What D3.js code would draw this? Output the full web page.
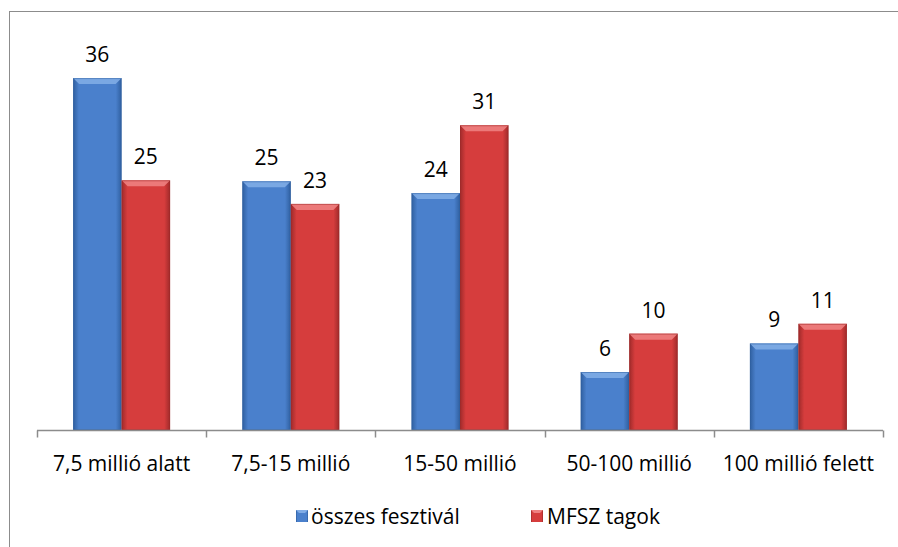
<!DOCTYPE html>
<html>
<head>
<meta charset="utf-8">
<script src="https://cdn.jsdelivr.net/npm/d3@7"></script>
<style>
  html, body { margin: 0; padding: 0; background: #fff; }
  svg { display: block; }
  text { font-family: "Open Sans", Lato, sans-serif; fill: #000; }
</style>
</head>
<body>
<svg id="chart" width="898" height="547"></svg>
<script>
const categories = ["7,5 millió alatt", "7,5-15 millió", "15-50 millió", "50-100 millió", "100 millió felett"];
const seriesNames = ["összes fesztivál", "MFSZ tagok"];
const osszesFesztival = [35.8, 25.3, 24.1, 5.9, 8.8];
const mfszTagok = [25.4, 23.0, 31.0, 9.8, 10.8];
const seriesValues = [osszesFesztival, mfszTagok];

const svg = d3.select("#chart");
const defs = svg.append("defs");

const palettes = [
  { base: "#4a80cc", light: "#80ace6", dark: "#2f5f9f", key: "b" },
  { base: "#d63d3d", light: "#ee8080", dark: "#9e2a2a", key: "r" }
];
palettes.forEach(p => {
  const g = defs.append("linearGradient").attr("id", "h" + p.key)
    .attr("x1", "0").attr("x2", "1").attr("y1", "0").attr("y2", "0");
  g.append("stop").attr("offset", "0").attr("stop-color", p.dark);
  g.append("stop").attr("offset", "0.12").attr("stop-color", p.base);
  g.append("stop").attr("offset", "0.88").attr("stop-color", p.base);
  g.append("stop").attr("offset", "1").attr("stop-color", p.dark);
});

// outer border
svg.append("rect").attr("x", 9.5).attr("y", 11.5).attr("width", 900).attr("height", 600)
  .attr("fill", "none").attr("stroke", "#8c8c8c").attr("stroke-width", 1);

const plotLeft = 37, plotRight = 883, plotBase = 430, plotTop = 36.8;
const x0 = d3.scaleBand().domain(categories).range([plotLeft, plotRight]).padding(0);
const x1 = d3.scaleBand().domain([0, 1]).range([0, 97]);
const y = d3.scaleLinear().domain([0, 40]).range([plotBase, plotTop]);
const fmt = d3.format(".0f");

const groups = svg.append("g").selectAll("g").data(categories).join("g")
  .attr("transform", d => `translate(${x0(d) + (x0.bandwidth() - 97) / 2},0)`);

groups.each(function(cat, ci) {
  const g = d3.select(this);
  [0, 1].forEach(si => {
    const v = seriesValues[si][ci];
    const p = palettes[si];
    const bx = x1(si), bw = x1.bandwidth();
    const by = y(v), bh = plotBase - by;
    g.append("rect").attr("x", bx).attr("y", by).attr("width", bw).attr("height", bh)
      .attr("fill", `url(#h${p.key})`);
    const bv = 6;
    g.append("path")
      .attr("d", `M${bx},${by} L${bx + bw},${by} L${bx + bw - bv},${by + bv} L${bx + bv},${by + bv} Z`)
      .attr("fill", p.light).attr("opacity", 0.9);
    g.append("rect").attr("x", bx + 0.5).attr("y", by + 0.5).attr("width", bw - 1).attr("height", bh - 1)
      .attr("fill", "none").attr("stroke", p.dark).attr("stroke-opacity", 0.5);
    g.append("text").attr("x", bx + bw / 2).attr("y", by - 16)
      .attr("text-anchor", "middle").attr("font-size", 21).text(fmt(v));
  });
});

// axis
const axisG = svg.append("g").attr("transform", `translate(0,${plotBase + 0.5})`);
axisG.append("line").attr("x1", plotLeft).attr("x2", plotRight).attr("y1", 0).attr("y2", 0)
  .attr("stroke", "#8c8c8c").attr("stroke-width", 1.5);
const tickPos = categories.map(c => x0(c)).concat([plotRight]);
axisG.selectAll("line.tick").data(tickPos).join("line").attr("class", "tick")
  .attr("x1", d => Math.round(d) + 0.5).attr("x2", d => Math.round(d) + 0.5)
  .attr("y1", 0).attr("y2", 7).attr("stroke", "#8c8c8c").attr("stroke-width", 1.5);
axisG.selectAll("text").data(categories).join("text")
  .attr("x", d => x0(d) + x0.bandwidth() / 2).attr("y", 40)
  .attr("text-anchor", "middle").attr("font-size", 21).text(d => d);

// legend
const legend = svg.append("g");
const legItems = [{ x: 296, tx: 311 }, { x: 531, tx: 547 }];
seriesNames.forEach((n, i) => {
  const p = palettes[i];
  const lx = legItems[i].x;
  legend.append("rect").attr("x", lx).attr("y", 510).attr("width", 12).attr("height", 12)
    .attr("fill", `url(#h${p.key})`);
  legend.append("path")
    .attr("d", `M${lx},510 L${lx + 12},510 L${lx + 9},513 L${lx + 3},513 Z`)
    .attr("fill", p.light);
  legend.append("text").attr("x", legItems[i].tx).attr("y", 524).attr("font-size", 21).text(n);
});
</script>
</body>
</html>
